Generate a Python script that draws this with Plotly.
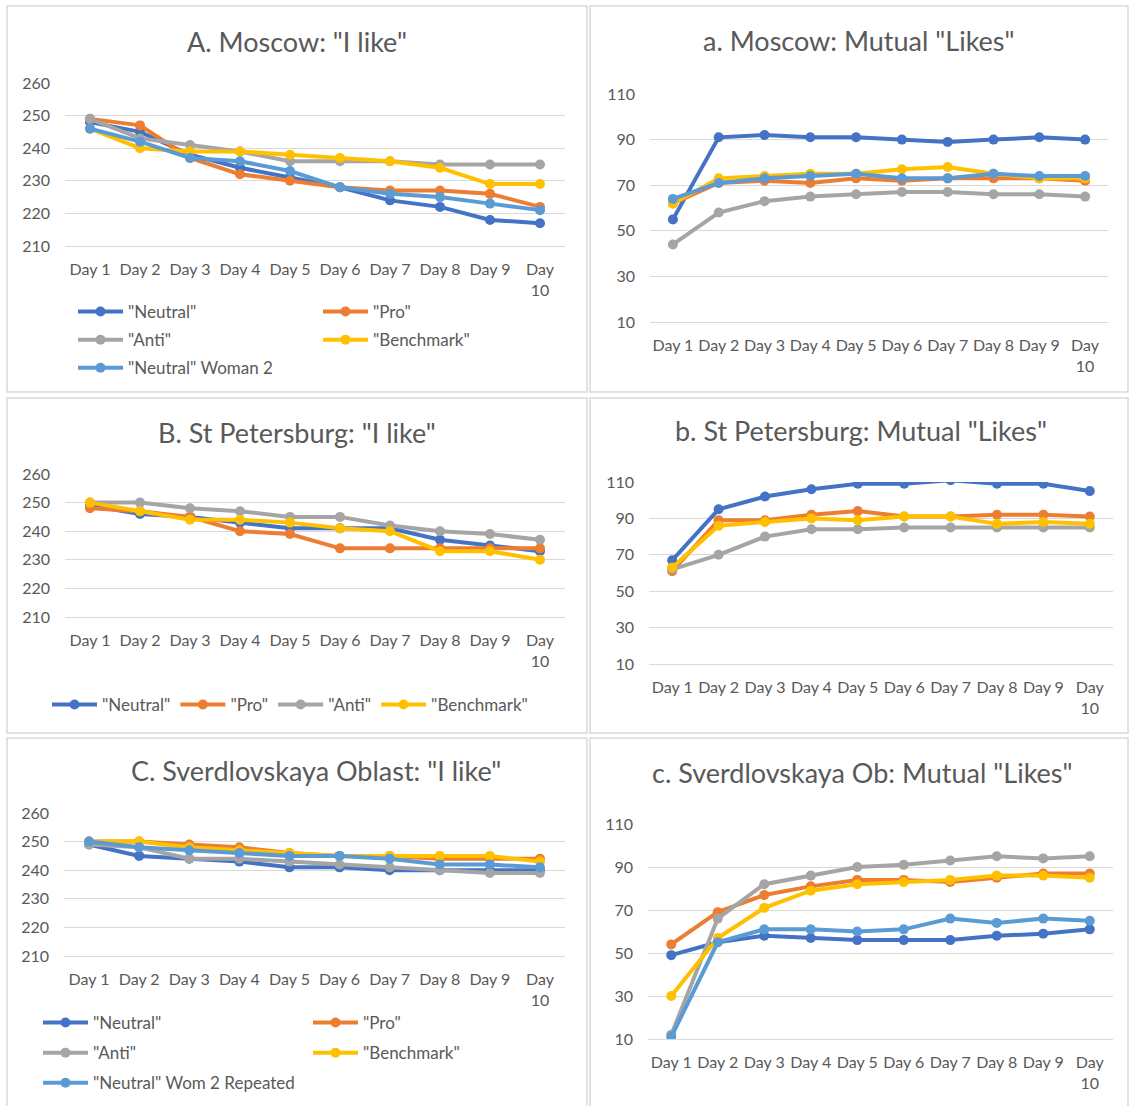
import plotly.graph_objects as go

W, H = 1130, 1106

days = [f"Day {i}" for i in range(1, 11)]
day_ticktext = [f"Day {i}" for i in range(1, 10)] + ["Day<br>10"]
like_ticks = [210, 220, 230, 240, 250, 260]
mutual_ticks = [10, 30, 50, 70, 90, 110]

series_names = ['"Neutral"', '"Pro"', '"Anti"', '"Benchmark"']
wom2_name_moscow = '"Neutral" Woman 2'
wom2_name_sverd = '"Neutral" Wom 2 Repeated'

# A. Moscow: "I like"
moscow_like_neutral = [248, 245, 238, 234, 231, 228, 224, 222, 218, 217]
moscow_like_pro = [249, 247, 237, 232, 230, 228, 227, 227, 226, 222]
moscow_like_anti = [249, 243, 241, 239, 236, 236, 236, 235, 235, 235]
moscow_like_bench = [246, 240, 239, 239, 238, 237, 236, 234, 229, 229]
moscow_like_wom2 = [246, 242, 237, 236, 233, 228, 226, 225, 223, 221]

# a. Moscow: Mutual "Likes"
moscow_mutual_neutral = [55, 91, 92, 91, 91, 90, 89, 90, 91, 90]
moscow_mutual_pro = [62, 71, 72, 71, 73, 72, 73, 73, 73, 72]
moscow_mutual_anti = [44, 58, 63, 65, 66, 67, 67, 66, 66, 65]
moscow_mutual_bench = [62, 73, 74, 75, 75, 77, 78, 75, 73, 73]
moscow_mutual_wom2 = [64, 71, 73, 74, 75, 73, 73, 75, 74, 74]

# B. St Petersburg: "I like"
spb_like_neutral = [249, 246, 245, 243, 241, 241, 241, 237, 235, 233]
spb_like_pro = [248, 247, 245, 240, 239, 234, 234, 234, 234, 234]
spb_like_anti = [250, 250, 248, 247, 245, 245, 242, 240, 239, 237]
spb_like_bench = [250, 247, 244, 244, 243, 241, 240, 233, 233, 230]

# b. St Petersburg: Mutual "Likes"
spb_mutual_neutral = [67, 95, 102, 106, 109, 109, 111, 109, 109, 105]
spb_mutual_pro = [61, 89, 89, 92, 94, 91, 91, 92, 92, 91]
spb_mutual_anti = [62, 70, 80, 84, 84, 85, 85, 85, 85, 85]
spb_mutual_bench = [63, 86, 88, 90, 89, 91, 91, 87, 88, 87]

# C. Sverdlovskaya Oblast: "I like"
sverd_like_neutral = [249, 245, 244, 243, 241, 241, 240, 240, 240, 240]
sverd_like_pro = [250, 250, 249, 248, 246, 245, 245, 244, 244, 244]
sverd_like_anti = [249, 248, 244, 244, 243, 242, 241, 240, 239, 239]
sverd_like_bench = [250, 250, 248, 247, 246, 245, 245, 245, 245, 243]
sverd_like_wom2 = [250, 248, 247, 246, 245, 245, 244, 242, 242, 241]

# c. Sverdlovskaya Ob: Mutual "Likes"
sverd_mutual_neutral = [49, 55, 58, 57, 56, 56, 56, 58, 59, 61]
sverd_mutual_pro = [54, 69, 77, 81, 84, 84, 83, 85, 87, 87]
sverd_mutual_anti = [12, 66, 82, 86, 90, 91, 93, 95, 94, 95]
sverd_mutual_bench = [30, 57, 71, 79, 82, 83, 84, 86, 86, 85]
sverd_mutual_wom2 = [11, 55, 61, 61, 60, 61, 66, 64, 66, 65]

titles = ['A. Moscow: "I like"', 'a. Moscow: Mutual "Likes"',
          'B. St Petersburg: "I like"', 'b. St Petersburg: Mutual "Likes"',
          'C. Sverdlovskaya Oblast: "I like"', 'c. Sverdlovskaya Ob: Mutual "Likes"']

COL = {"neutral": "#4472C4", "pro": "#ED7D31", "anti": "#A5A5A5",
       "bench": "#FFC000", "wom2": "#5B9BD5"}
FONT = "Lato, 'Open Sans', sans-serif"
TXT = "#595959"
GRID = "#D9D9D9"

def px(x):
    return x / W

def py(y):
    return 1 - y / H

fig = go.Figure()

def add(axis_n, key, name, values, legend=None, show=False):
    sfx = "" if axis_n == 1 else str(axis_n)
    fig.add_trace(go.Scatter(
        x=days, y=values, name=name, mode="lines+markers",
        line=dict(color=COL[key], width=4),
        marker=dict(color=COL[key], size=10),
        xaxis="x" + sfx, yaxis="y" + sfx,
        legend=legend if legend else "legend",
        legendgroup=f"p{axis_n}{key}",
        showlegend=show, hoverinfo="skip"))

# Panel A (with legends)
add(1, "neutral", series_names[0], moscow_like_neutral, "legend", True)
add(1, "pro", series_names[1], moscow_like_pro, "legend2", True)
add(1, "anti", series_names[2], moscow_like_anti, "legend", True)
add(1, "bench", series_names[3], moscow_like_bench, "legend2", True)
add(1, "wom2", wom2_name_moscow, moscow_like_wom2, "legend", True)
# Panel a
add(2, "neutral", series_names[0], moscow_mutual_neutral)
add(2, "pro", series_names[1], moscow_mutual_pro)
add(2, "anti", series_names[2], moscow_mutual_anti)
add(2, "bench", series_names[3], moscow_mutual_bench)
add(2, "wom2", wom2_name_moscow, moscow_mutual_wom2)
# Panel B
add(3, "neutral", series_names[0], spb_like_neutral, "legend3", True)
add(3, "pro", series_names[1], spb_like_pro, "legend3", True)
add(3, "anti", series_names[2], spb_like_anti, "legend3", True)
add(3, "bench", series_names[3], spb_like_bench, "legend3", True)
# Panel b
add(4, "neutral", series_names[0], spb_mutual_neutral)
add(4, "pro", series_names[1], spb_mutual_pro)
add(4, "anti", series_names[2], spb_mutual_anti)
add(4, "bench", series_names[3], spb_mutual_bench)
# Panel C
add(5, "neutral", series_names[0], sverd_like_neutral, "legend4", True)
add(5, "pro", series_names[1], sverd_like_pro, "legend5", True)
add(5, "anti", series_names[2], sverd_like_anti, "legend4", True)
add(5, "bench", series_names[3], sverd_like_bench, "legend5", True)
add(5, "wom2", wom2_name_sverd, sverd_like_wom2, "legend4", True)
# Panel c
add(6, "neutral", series_names[0], sverd_mutual_neutral)
add(6, "pro", series_names[1], sverd_mutual_pro)
add(6, "anti", series_names[2], sverd_mutual_anti)
add(6, "bench", series_names[3], sverd_mutual_bench)
add(6, "wom2", wom2_name_sverd, sverd_mutual_wom2)

# plot areas in pixels: (x0, x1, y_top, y_bottom)
areas = [
    (65, 565, 83, 246),
    (650, 1108, 94, 322),
    (65, 565, 474, 617),
    (649, 1113, 482, 664),
    (64, 565, 813, 956),
    (648, 1113, 824, 1039),
]
yranges = [[210, 260], [10, 110]] * 3
yticks = [like_ticks, mutual_ticks] * 3

layout = dict(
    width=W, height=H, margin=dict(l=0, r=0, t=0, b=0, autoexpand=False),
    paper_bgcolor="white", plot_bgcolor="white",
    font=dict(family=FONT, color=TXT, size=16),
)
for i, (x0, x1, yt, yb) in enumerate(areas):
    n = i + 1
    sfx = "" if n == 1 else str(n)
    layout["xaxis" + sfx] = dict(
        domain=[px(x0), px(x1)], anchor="y" + sfx, automargin=False,
        tickmode="array", tickvals=days, ticktext=day_ticktext,
        range=[-0.5, 9.5], tickangle=0, showgrid=False, zeroline=False,
        showline=True, linecolor=GRID, linewidth=1, ticks="",
        tickfont=dict(size=16, color=TXT), ticklabelstandoff=9)
    layout["yaxis" + sfx] = dict(
        domain=[py(yb), py(yt)], anchor="x" + sfx, automargin=False,
        range=yranges[i], tickvals=yticks[i], showgrid=True,
        gridcolor=GRID, gridwidth=1, zeroline=False, showline=False,
        ticks="", tickfont=dict(size=16, color=TXT), ticklabelstandoff=14)

leg_common = dict(font=dict(family=FONT, size=17, color=TXT), bgcolor="rgba(0,0,0,0)",
                  itemwidth=45, traceorder="grouped", tracegroupgap=5,
                  xanchor="left", yanchor="top", itemclick=False, itemdoubleclick=False)
layout["legend"] = dict(leg_common, x=px(73), y=py(294), orientation="v", tracegroupgap=3)
layout["legend2"] = dict(leg_common, x=px(318), y=py(294), orientation="v", tracegroupgap=3)
layout["legend3"] = dict(leg_common, x=px(47), y=py(687), orientation="h")
layout["legend4"] = dict(leg_common, x=px(38), y=py(1005), orientation="v")
layout["legend5"] = dict(leg_common, x=px(308), y=py(1005), orientation="v")

# titles
title_pos = [(297, 42), (859, 41), (297, 432), (861, 431), (316, 770), (862, 772)]
annotations = []
for t, (cx, cy) in zip(titles, title_pos):
    annotations.append(dict(text=t, x=px(cx), y=py(cy), xref="paper", yref="paper",
                            xanchor="center", yanchor="middle", showarrow=False,
                            font=dict(family=FONT, size=27, color=TXT)))
layout["annotations"] = annotations

# panel borders
panels = [(7, 6, 587, 392), (590, 6, 1128, 392), (7, 398, 587, 733),
          (590, 398, 1128, 733), (7, 738, 587, 1110), (590, 738, 1128, 1110)]
shapes = []
for (x0, y0, x1, y1) in panels:
    shapes.append(dict(type="rect", xref="paper", yref="paper",
                       x0=px(x0), x1=px(x1), y0=py(y1), y1=py(y0),
                       line=dict(color=GRID, width=1.5), fillcolor="rgba(0,0,0,0)", layer="below"))
layout["shapes"] = shapes

fig.update_layout(**layout)
fig.write_html("out.html")
